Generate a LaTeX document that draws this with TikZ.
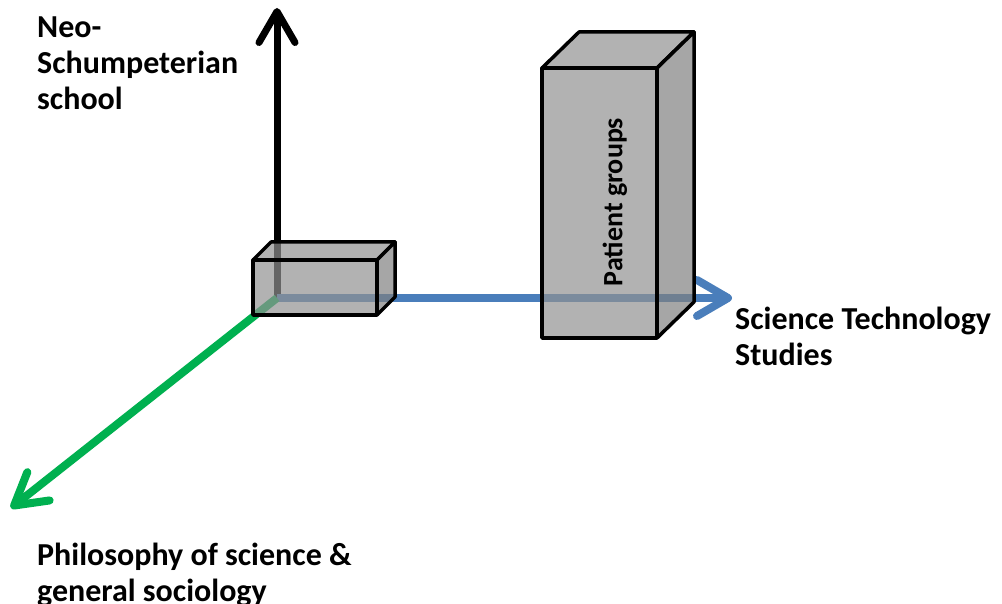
\documentclass[tikz,border=0pt]{standalone}
\usepackage{fontspec}
\setmainfont{Carlito}
\usetikzlibrary{arrows.meta}
\definecolor{axblue}{HTML}{4A7EBB}
\definecolor{axgreen}{HTML}{00B050}
\definecolor{boxfront}{HTML}{919191}
\definecolor{boxside}{HTML}{808080}
\tikzset{
  axis/.style={line width=#1, line cap=butt,
    -{Straight Barb[length=31pt,width=36pt,round]}},
  face/.style={draw=black, line width=3.5pt, line join=round, fill=#1, fill opacity=0.7},
  lbl/.style={font=\bfseries\fontsize{32}{36}\selectfont, align=left, inner sep=0pt, anchor=north west},
}
\begin{document}
\begin{tikzpicture}[x=1pt,y=-1pt]
\useasboundingbox (0,0) rectangle (1002,604);
% axes
\coordinate (O) at (277,298);
\coordinate (Otop) at (277,8);
\coordinate (Oright) at (732,298);
\coordinate (Oleft) at (11,508);
\draw[axis=7pt, black] (O) -- (Otop);
\draw[axis=8pt, axblue] (O) -- (Oright);
\draw[axis=8pt, axgreen] (O) -- (Oleft);
% small box
\coordinate (a1) at (253,260); \coordinate (a2) at (377,260);
\coordinate (a3) at (377,315); \coordinate (a4) at (253,315);
\coordinate (a5) at (271,242); \coordinate (a6) at (395,242);
\coordinate (a7) at (395,297);
\path[face=boxfront] (a1) -- (a2) -- (a3) -- (a4) -- cycle;
\path[face=boxfront] (a1) -- (a5) -- (a6) -- (a2) -- cycle;
\path[face=boxside] (a2) -- (a6) -- (a7) -- (a3) -- cycle;
% tall box
\coordinate (b1) at (542,68); \coordinate (b2) at (657,68);
\coordinate (b3) at (657,338); \coordinate (b4) at (542,338);
\coordinate (b5) at (579,32); \coordinate (b6) at (694,32);
\coordinate (b7) at (694,302);
\path[face=boxfront] (b1) -- (b2) -- (b3) -- (b4) -- cycle;
\path[face=boxfront] (b1) -- (b5) -- (b6) -- (b2) -- cycle;
\path[face=boxside] (b2) -- (b6) -- (b7) -- (b3) -- cycle;
\node[rotate=90, font=\bfseries\fontsize{28}{34}\selectfont, inner sep=0pt] (pg) at (615,202) {Patient groups};
% labels
\node[lbl] (neo) at (37,17) {Neo-\\Schumpeterian\\school};
\node[lbl] (sts) at (735,307) {Science Technology\\Studies};
\node[lbl] (phil) at (37,543) {Philosophy of science \&\\general sociology};
\end{tikzpicture}
\end{document}
